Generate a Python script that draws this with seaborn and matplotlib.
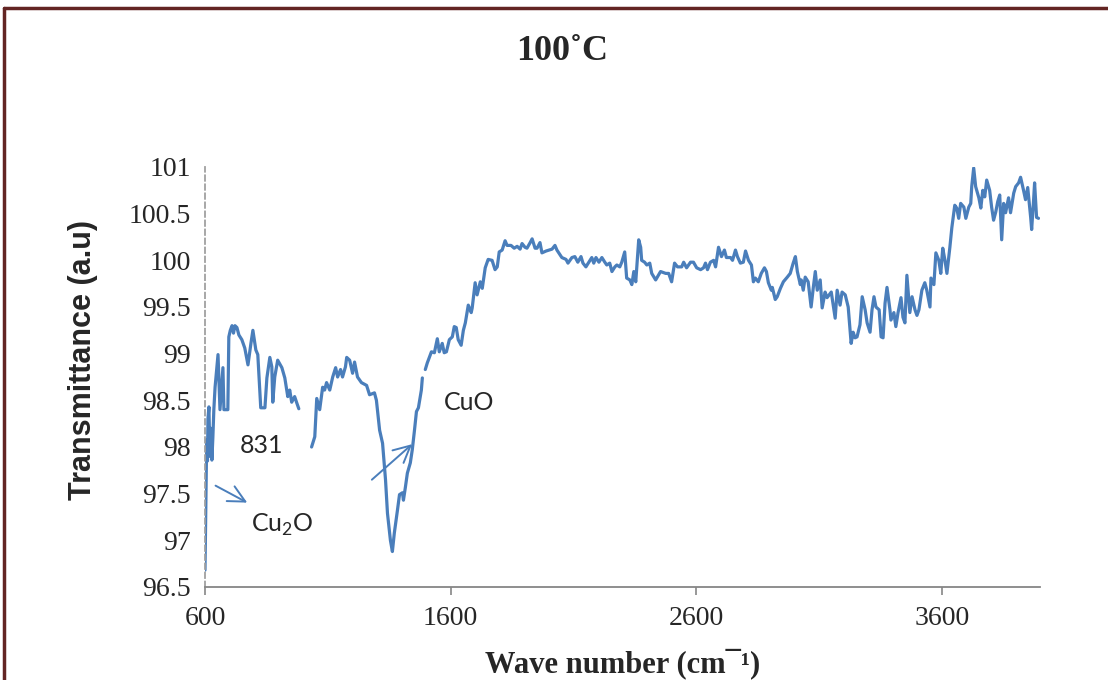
import pandas as pd
import matplotlib
matplotlib.use("Agg")
import matplotlib.pyplot as plt
from matplotlib.lines import Line2D
import seaborn as sns

# FTIR spectrum, three pieces (gaps between them)
wn1 = [600, 606, 608, 610, 612, 616, 620, 624, 628, 632, 636, 641, 653, 661, 673, 677,
       693, 697, 703, 710, 716, 722, 730, 738, 750, 762, 775, 787, 795, 807, 815, 827,
       844, 852, 864, 872, 876, 884, 896, 913, 925, 937, 945, 953, 965, 974, 982]
t1 = [96.68, 97.9, 98.08, 97.85, 98.3, 98.43, 97.9, 98.2, 97.86, 98.1, 98.4, 98.64, 98.99, 98.40, 98.85, 98.40,
      98.40, 99.18, 99.25, 99.30, 99.22, 99.30, 99.28, 99.20, 99.15, 99.06, 98.88, 99.11, 99.25, 99.04, 98.99, 98.42,
      98.42, 98.74, 98.96, 98.86, 98.48, 98.75, 98.93, 98.85, 98.74, 98.54, 98.61, 98.48, 98.54, 98.47, 98.41]

wn2 = [1034, 1047, 1055, 1067, 1079, 1087, 1095, 1108, 1120, 1132, 1140, 1152, 1160, 1172, 1177, 1189,
       1201, 1209, 1221, 1237, 1258, 1270, 1290, 1298, 1311, 1323, 1335, 1343, 1355, 1363, 1371, 1384,
       1392, 1404, 1408, 1416, 1424, 1436, 1444, 1453, 1461, 1469, 1481, 1485]
t2 = [98.00, 98.11, 98.52, 98.40, 98.64, 98.61, 98.69, 98.61, 98.75, 98.85, 98.75, 98.83, 98.75, 98.86, 98.96, 98.93,
      98.79, 98.91, 98.75, 98.69, 98.66, 98.56, 98.58, 98.50, 98.18, 98.04, 97.65, 97.29, 97.00, 96.88, 97.08, 97.33,
      97.49, 97.51, 97.43, 97.57, 97.72, 97.83, 97.97, 98.18, 98.38, 98.42, 98.61, 98.74]

wn3 = [1497, 1505, 1522, 1534, 1546, 1554, 1566, 1574, 1583, 1595, 1607, 1615, 1623, 1631, 1643, 1652,
       1660, 1672, 1684, 1688, 1700, 1708, 1721, 1729, 1741, 1753, 1769, 1781, 1790, 1798, 1810, 1822,
       1830, 1846, 1859, 1871, 1883, 1891, 1903, 1911, 1924, 1932, 1944, 1952, 1964, 1972, 1989, 2001,
       2013, 2025, 2033, 2053, 2070, 2078, 2094, 2106, 2118, 2131, 2139, 2151, 2163, 2175, 2183, 2192,
       2204, 2216, 2228, 2236, 2248, 2257, 2269, 2277, 2289, 2297, 2309, 2317, 2330, 2338, 2346, 2354,
       2366, 2374, 2378, 2390, 2399, 2411, 2419, 2435, 2455, 2476, 2488, 2500, 2512, 2524, 2541, 2549,
       2561, 2577, 2589, 2602, 2618, 2630, 2638, 2646, 2658, 2671, 2679, 2691, 2703, 2715, 2723, 2740,
       2748, 2760, 2768, 2780, 2792, 2801, 2813, 2825, 2833, 2841, 2853, 2865, 2878, 2886, 2894, 2906,
       2910, 2922, 2930, 2943, 2955, 2971, 2983, 2995, 3004, 3012, 3024, 3028, 3036, 3044, 3056, 3068,
       3077, 3085, 3093, 3105, 3113, 3125, 3133, 3150, 3166, 3174, 3186, 3194, 3207, 3219, 3231, 3239,
       3247, 3255, 3267, 3276, 3288, 3296, 3308, 3316, 3324, 3332, 3345, 3353, 3361, 3369, 3377, 3389,
       3393, 3405, 3413, 3422, 3434, 3442, 3450, 3458, 3470, 3479, 3491, 3499, 3507, 3519, 3531, 3539,
       3552, 3556, 3568, 3576, 3588, 3596, 3604, 3613, 3621, 3633, 3641, 3653, 3661, 3669, 3677, 3690,
       3698, 3710, 3718, 3722, 3730, 3738, 3751, 3759, 3767, 3775, 3783, 3795, 3803, 3811, 3820, 3828,
       3836, 3844, 3852, 3860, 3872, 3880, 3893, 3901, 3913, 3921, 3933, 3941, 3950, 3962, 3966, 3974,
       3978, 3986, 3994]
t3 = [98.83, 98.90, 99.02, 99.01, 99.16, 99.02, 99.11, 99.01, 99.02, 99.15, 99.18, 99.29, 99.28, 99.15, 99.09, 99.25,
      99.33, 99.52, 99.44, 99.49, 99.76, 99.63, 99.77, 99.70, 99.92, 100.01, 100.00, 99.90, 99.93, 100.09, 100.11, 100.21,
      100.16, 100.16, 100.13, 100.15, 100.12, 100.18, 100.14, 100.13, 100.19, 100.23, 100.13, 100.13, 100.19, 100.08, 100.10, 100.11,
      100.12, 100.16, 100.11, 100.03, 100.01, 99.97, 100.03, 100.04, 99.98, 100.04, 99.97, 99.93, 99.98, 100.03, 99.97, 100.03,
      99.98, 100.03, 99.98, 99.95, 99.97, 99.88, 99.93, 99.95, 99.93, 99.98, 100.09, 99.81, 99.79, 99.74, 99.88, 99.77,
      100.22, 100.14, 100.00, 99.98, 99.95, 99.97, 99.86, 99.79, 99.88, 99.86, 99.86, 99.77, 99.97, 99.93, 99.93, 99.98,
      99.92, 99.98, 99.98, 99.92, 99.90, 99.92, 99.97, 99.90, 99.98, 100.00, 99.93, 100.14, 100.04, 100.11, 100.03, 100.03,
      100.00, 100.11, 100.04, 99.97, 99.98, 100.10, 100.00, 99.95, 99.77, 99.81, 99.77, 99.86, 99.92, 99.88, 99.76, 99.68,
      99.71, 99.58, 99.61, 99.70, 99.77, 99.82, 99.86, 99.97, 100.04, 99.88, 99.74, 99.79, 99.68, 99.82, 99.77, 99.50,
      99.71, 99.88, 99.68, 99.79, 99.49, 99.66, 99.60, 99.66, 99.38, 99.68, 99.52, 99.66, 99.63, 99.50, 99.11, 99.23,
      99.17, 99.18, 99.31, 99.61, 99.47, 99.33, 99.23, 99.47, 99.61, 99.50, 99.47, 99.18, 99.17, 99.54, 99.71, 99.47,
      99.36, 99.44, 99.29, 99.44, 99.60, 99.39, 99.33, 99.84, 99.44, 99.61, 99.47, 99.41, 99.47, 99.68, 99.76, 99.68,
      99.50, 99.81, 99.74, 100.08, 100.00, 99.86, 100.13, 100.00, 99.86, 100.14, 100.35, 100.59, 100.56, 100.45, 100.61, 100.57,
      100.45, 100.57, 100.61, 100.79, 100.99, 100.79, 100.67, 100.56, 100.75, 100.68, 100.86, 100.75, 100.57, 100.43, 100.52, 100.63,
      100.70, 100.22, 100.61, 100.51, 100.67, 100.51, 100.72, 100.79, 100.83, 100.89, 100.75, 100.65, 100.78, 100.46, 100.33, 100.65,
      100.83, 100.46, 100.45]

y_ticks = [96.5, 97, 97.5, 98, 98.5, 99, 99.5, 100, 100.5, 101]
y_labels = ["96.5", "97", "97.5", "98", "98.5", "99", "99.5", "100", "100.5", "101"]
x_ticks = [600, 1600, 2600, 3600]

df = pd.concat([
    pd.DataFrame({"wn": wn1, "T": t1, "seg": 1}),
    pd.DataFrame({"wn": wn2, "T": t2, "seg": 2}),
    pd.DataFrame({"wn": wn3, "T": t3, "seg": 3}),
])

sns.set_style("white")
plt.rcParams["font.family"] = ["Liberation Serif", "DejaVu Serif"]

blue = "#4a7ebb"
fig = plt.figure(figsize=(11.08, 6.8), dpi=100)
ax = fig.add_axes([205 / 1108, 93 / 680, 835 / 1108, 420 / 680])

sns.lineplot(data=df, x="wn", y="T", units="seg", estimator=None, sort=False,
             color=blue, linewidth=2.3, ax=ax)

ax.set_xlim(600, 4000)
ax.set_ylim(96.5, 101)
ax.set_xticks(x_ticks)
ax.set_xticklabels([str(v) for v in x_ticks])
ax.set_yticks(y_ticks)
ax.set_yticklabels(y_labels)
ax.tick_params(axis="x", direction="out", length=6, width=1.2, color="#868686",
               labelsize=20, pad=8, bottom=True)
ax.tick_params(axis="y", length=0, labelsize=20, pad=10)

for s in ["top", "right"]:
    ax.spines[s].set_visible(False)
ax.spines["bottom"].set_color("#868686")
ax.spines["bottom"].set_linewidth(1.3)
ax.spines["left"].set_color("#a0a0a0")
ax.spines["left"].set_linestyle((0, (3, 2)))
ax.spines["left"].set_linewidth(1.3)

ax.set_xlabel("Wave number (cm¯¹)", fontsize=22, fontweight="bold")
ax.xaxis.set_label_coords(0.5, -0.145)
ax.set_ylabel("Transmittance (a.u)", fontsize=22, fontweight="bold",
              family=["Liberation Sans", "DejaVu Sans"])
ax.yaxis.set_label_coords(-0.128, 0.54)

# annotations
note_font = ["Lato", "DejaVu Sans"]
ax.text(832, 98.02, "831", fontsize=18, ha="center", va="center", family=note_font)
ax.text(1677, 98.48, "CuO", fontsize=18, ha="center", va="center", family=note_font)
ax.text(913, 97.16, r"Cu$_{\mathregular{2}}$O", fontsize=18, ha="center", va="center",
        family=note_font)
ax.annotate("", xy=(782, 97.39), xytext=(633, 97.60),
            arrowprops=dict(arrowstyle="->", color=blue, lw=1.4, mutation_scale=30))
ax.annotate("", xy=(1452, 98.05), xytext=(1271, 97.63),
            arrowprops=dict(arrowstyle="->", color=blue, lw=1.4, mutation_scale=30))

fig.text(562 / 1108, 1 - 52 / 680, "100˚C", fontsize=26, fontweight="bold",
         ha="center", va="center")

# page border
border = "#632523"
fig.add_artist(Line2D([4 / 1108, 1.0], [1 - 8 / 680, 1 - 8 / 680], color=border, lw=2.5,
                      transform=fig.transFigure))
fig.add_artist(Line2D([4 / 1108, 4 / 1108], [0, 1 - 8 / 680], color=border, lw=2.5,
                      transform=fig.transFigure))

fig.savefig("out.png", dpi=100)
